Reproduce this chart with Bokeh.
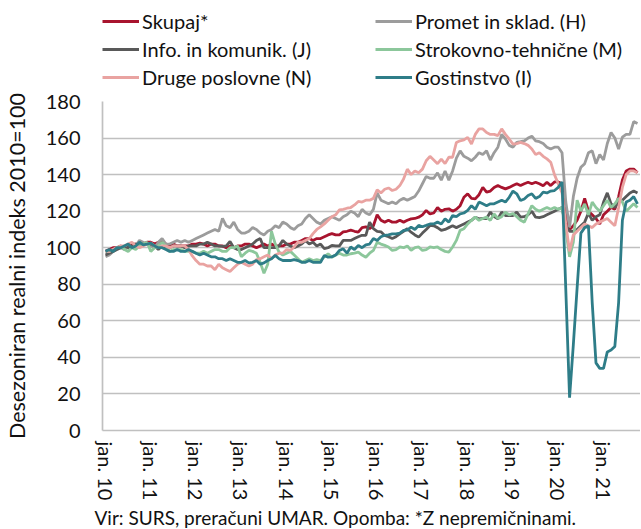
import numpy as np
from bokeh.plotting import figure
from bokeh.layouts import column
from bokeh.models import ColumnDataSource, Legend, LegendItem, Title, Range1d, FixedTicker
from bokeh.embed import file_html
from bokeh.resources import INLINE

tick_months = [0, 12, 24, 36, 48, 60, 72, 84, 96, 108, 120, 132]
tick_labels = ["jan. 10", "jan. 11", "jan. 12", "jan. 13", "jan. 14", "jan. 15",
               "jan. 16", "jan. 17", "jan. 18", "jan. 19", "jan. 20", "jan. 21"]
y_ticks = [0, 20, 40, 60, 80, 100, 120, 140, 160, 180]

skupaj = [
    98, 99, 100, 100, 101, 100, 101, 102, 102, 101, 102, 103,
    103, 102, 103, 103, 102, 101, 102, 101, 101, 101, 101, 102,
    102, 102.5, 102, 101, 102, 102, 101, 101, 100, 101, 100, 101,
    101, 102, 102, 101, 100, 101, 102, 101, 102, 101, 101, 101,
    102, 102, 103, 103, 104, 105, 105, 104, 105, 105, 106, 107,
    107.7, 107, 107, 108.7, 109, 109.6, 109, 108.5, 111, 111.4, 110.5, 112,
    118, 115, 114, 115, 114, 114, 115, 114, 115, 115.8, 116, 116.7,
    118, 120.4, 118.5, 119, 122, 120, 121, 121.3, 120, 121, 123, 127.6,
    129.5, 127, 126.7, 129, 133, 130.4, 131, 133, 134, 133, 132.2, 133,
    134, 135, 134, 135, 135.8, 135, 135.8, 135, 133.9, 135.8, 134, 136,
    136, 135, 118, 110, 112, 115, 120, 127, 120, 118, 116, 113,
    118, 120, 122, 121, 128, 137, 142, 143, 143, 141]

promet = [
    95, 96, 98, 99, 100, 99, 101, 100, 101, 104, 103, 102,
    101, 100, 103, 105, 102, 102, 103, 104, 103, 104, 103, 104,
    105, 106, 107, 108, 109, 110, 109, 116, 112, 111, 114, 110,
    108, 108, 109, 111, 110, 108, 107, 109, 110, 112, 111, 114,
    113, 111, 110, 112, 113, 116, 118, 116, 114, 113, 115, 116,
    117, 116, 115, 117, 118, 120, 119, 117, 121, 119, 118, 121,
    130, 126, 125, 124, 125, 124, 126, 127, 126, 127, 128, 131,
    135, 139, 138, 138, 141, 137, 142, 137, 142, 149, 153, 150,
    149, 147.6, 149.5, 152, 151, 153, 148, 152, 155, 162, 159.5, 156,
    155, 157.6, 158, 158.5, 160, 161, 158.5, 158, 157, 155, 154, 155,
    155, 152, 125, 111, 128, 138, 144, 146, 152, 153, 146, 151,
    148, 157, 163, 160, 154, 160.5, 162, 162, 169, 168]

info = [
    96, 97, 98, 99, 100, 101, 100, 101, 102, 101, 102, 102,
    102, 101, 99, 101, 100, 100, 101, 101, 101, 100, 101, 101,
    101, 102, 102, 103, 102, 101, 101, 100.7, 101, 103.4, 100, 99,
    99, 100, 101, 102, 104, 105, 100, 100, 100, 100, 101, 104,
    102, 101, 100, 101, 102, 104, 102, 103, 101, 102, 99.5, 100,
    101.3, 101, 101, 104, 104, 104, 105, 106, 106.8, 106.8, 114, 110.5,
    109, 108.7, 106.7, 106, 105, 106, 107.6, 109, 110.4, 108.5, 107, 105.8,
    108, 110, 112.2, 112, 111, 109.5, 110, 111, 112, 111, 112, 113,
    114, 115, 116.7, 115.8, 116, 116, 119.5, 117, 115.8, 119.5, 117.6, 117.6,
    117.6, 119.5, 116.7, 117, 118, 120, 116.7, 116.5, 117, 118, 119, 120,
    121, 122, 112, 109, 109, 110, 112, 114, 119, 115, 117, 118,
    125, 130, 124, 122, 125, 126, 128, 130, 131, 130]

strokovno = [
    98, 98, 99, 100, 101, 99, 98, 100, 99, 101, 102, 103,
    98, 100, 101, 103, 101, 98, 99, 99, 99, 98, 98, 98,
    97, 97, 98, 97, 98, 99, 99, 98, 98, 100, 100, 101,
    95, 97, 98.5, 98, 97, 92, 86, 91, 109, 102, 97.6, 96,
    97, 98, 96, 94, 92, 93, 94, 93, 93.5, 93, 95, 96.7,
    94.8, 96, 97, 96, 96, 96.7, 97, 97.6, 96, 94.8, 97, 98.5,
    103, 102, 101.3, 100.4, 98.5, 99, 100.4, 100, 101, 98.5, 100, 100.4,
    98.5, 99, 100.4, 100, 100.4, 99, 98, 97.6, 100.4, 104, 109.5, 110.4,
    113, 115, 116.7, 115, 116, 116.7, 115, 118.5, 116, 117, 119.5, 118,
    118.7, 117, 115, 114, 118.5, 123, 121, 120, 121, 122, 121, 122,
    121, 122, 110, 95, 103, 126, 120, 124, 118, 125, 122, 120,
    123, 126, 122, 124, 127, 125, 120, 122, 124, 122]

druge = [
    98, 98, 99, 100, 101, 101, 102, 103, 101, 100, 101, 102,
    102.6, 101, 100, 101, 101, 100, 101, 101, 101, 101, 99, 95.5,
    93, 91, 91, 90, 90, 88, 91, 89, 88, 87, 89, 91,
    92, 91, 90, 91, 93.5, 94, 95, 96, 94, 96, 97, 97,
    99, 98.5, 100.4, 103, 103, 104, 105, 107.7, 110, 111.4, 113, 115,
    117, 118, 120.7, 121, 121.6, 122, 123.4, 125.3, 125, 126, 126, 127,
    131.7, 130, 132, 132.7, 131.3, 132, 134, 137.6, 143, 140, 142, 141,
    143, 147.6, 150, 148, 146, 148.5, 146, 149.5, 149.5, 157.6, 158.5, 159,
    160.4, 156.7, 162, 165, 165, 163, 162, 162, 161.3, 165, 162, 159.5,
    156.7, 157, 157.6, 157, 156, 154, 151, 152, 150, 148.6, 146.8, 140,
    135, 130, 113, 98, 107, 109, 111, 113, 112, 111, 113, 114,
    115, 116, 114, 112, 122, 133, 140, 142, 142, 141]

gostinstvo = [
    98, 99, 98, 100, 100, 101, 102, 100, 101, 103, 101.6, 102,
    102.5, 101, 100, 100, 99, 98, 98, 99, 98, 98, 99, 98,
    97, 96, 97, 96, 95, 95, 94, 94, 93, 94, 93, 92,
    92, 93, 91.7, 92, 93, 91, 91.7, 93, 94, 95.8, 94, 93,
    93, 93, 93.5, 93, 92, 92, 93, 92, 92, 92, 95.8, 94.8,
    95, 96, 98.5, 99.4, 97, 100.4, 99, 101.3, 100, 101.6, 102, 105,
    104, 106, 106.8, 107, 107.6, 107.6, 108, 109.5, 109.7, 111.3, 110, 112.2,
    111.5, 112.2, 113, 113, 114, 113, 115.8, 114, 117.6, 117, 118.5, 119,
    120.4, 123, 121, 125, 124, 123, 124, 124, 125, 126, 125, 127.6,
    131, 129.5, 125.8, 126.7, 128.6, 129.5, 127, 128, 130.4, 130, 131, 131.3,
    133, 136, 77, 18, 47, 78, 108, 111, 112, 70, 37, 34,
    34, 43, 44, 46, 70, 115, 125, 126, 128, 124]

months = list(range(len(skupaj)))

FONT = "Lato"
FS = "20px"

series = [
    ("Skupaj*", skupaj, "#A8142E"),
    ("Promet in sklad. (H)", promet, "#9C9C9C"),
    ("Info. in komunik. (J)", info, "#595959"),
    ("Strokovno-tehnične (M)", strokovno, "#8CC79B"),
    ("Druge poslovne (N)", druge, "#E9A3A1"),
    ("Gostinstvo (I)", gostinstvo, "#2E7D88"),
]
by_name = {n: (v, c) for n, v, c in series}

# ---- main chart ----
p = figure(width=640, height=439, output_backend="svg", toolbar_location=None,
           x_range=Range1d(-0.8, 141.8), y_range=Range1d(0, 180),
           min_border_left=99, min_border_right=0, min_border_top=12, min_border_bottom=90)
p.outline_line_color = None
p.background_fill_color = "white"

for name, vals, col in series:
    src = ColumnDataSource(dict(x=months, y=vals))
    p.line("x", "y", source=src, line_color=col, line_width=2.8)

p.xgrid.grid_line_color = None
p.ygrid.grid_line_color = "#C0C0C0"
p.ygrid.grid_line_width = 1.7
p.yaxis.ticker = FixedTicker(ticks=y_ticks)
p.xaxis.ticker = FixedTicker(ticks=tick_months)
p.xaxis.major_label_overrides = {m: l for m, l in zip(tick_months, tick_labels)}
p.xaxis.major_label_orientation = "vertical"

for ax in (p.xaxis[0], p.yaxis[0]):
    ax.axis_line_color = "#C0C0C0"
    ax.axis_line_width = 1.7
    ax.major_tick_line_color = None
    ax.minor_tick_line_color = None
    ax.major_label_text_font = FONT
    ax.major_label_text_font_size = FS
    ax.major_label_text_color = "#111111"

p.xaxis.major_label_standoff = 5
p.yaxis.major_label_standoff = 16
p.yaxis.axis_label = "Desezoniran realni indeks 2010=100"
p.yaxis.axis_label_text_font = FONT
p.yaxis.axis_label_text_font_size = "21.5px"
p.yaxis.axis_label_text_font_style = "normal"
p.yaxis.axis_label_text_color = "#111111"
p.yaxis.axis_label_standoff = 13

p.add_layout(Title(text="Vir: SURS, preračuni UMAR. Opomba: *Z nepremičninami.",
                   align="left", offset=-8, standoff=0,
                   text_font=FONT, text_font_size="19px", text_font_style="normal",
                   text_color="#111111"), "below")

# ---- legend strip (same series, drawn outside its visible range) ----
lf = figure(width=640, height=89, output_backend="svg", toolbar_location=None,
            x_range=Range1d(-0.8, 141.8), y_range=Range1d(-20, -10),
            x_axis_location=None, y_axis_location=None,
            min_border_left=0, min_border_right=0, min_border_top=0, min_border_bottom=0)
lf.outline_line_color = None
lf.grid.visible = False
legend_names = ["Skupaj*", "Info. in komunik. (J)", "Druge poslovne (N)",
                "Promet in sklad. (H)", "Strokovno-tehnične (M)", "Gostinstvo (I)"]
items = []
for n in legend_names:
    vals, col = by_name[n]
    r = lf.line(x=months, y=vals, line_color=col, line_width=2.8)
    items.append(LegendItem(label=n, renderers=[r]))
lg = Legend(items=items, location=(0, 0), orientation="vertical", nrows=3)
lg.label_text_font = FONT
lg.label_text_font_size = FS
lg.label_text_color = "#111111"
lg.glyph_width = 37
lg.glyph_height = 20
lg.label_height = 20
lg.label_width = 229
lg.label_standoff = 3
lg.spacing = 4
lg.padding = 0
lg.margin = 0
lg.border_line_alpha = 0
lg.background_fill_alpha = 0
lf.add_layout(lg)

layout = column(lf, p, spacing=0)
open("out.html", "w").write(file_html(layout, INLINE))
